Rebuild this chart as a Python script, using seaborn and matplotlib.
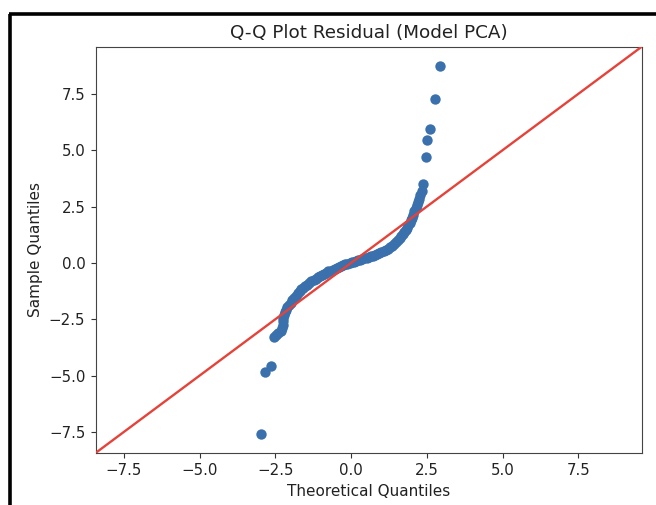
import matplotlib
matplotlib.use("Agg")
import matplotlib.pyplot as plt
from matplotlib.lines import Line2D
import seaborn as sns
import pandas as pd

# Theoretical vs. sample quantiles
theoretical = [
    -2.99, -2.83, -2.65, -2.55, -2.47, -2.40, -2.33, -2.28, -2.26, -2.25,
    -2.24, -2.22, -2.19, -2.15, -2.10, -2.05, -2.00, -1.94, -1.88, -1.82,
    -1.76, -1.70, -1.64, -1.58, -1.52, -1.45, -1.38, -1.31, -1.24, -1.17,
    -1.10, -1.03, -0.96, -0.89, -0.82, -0.75, -0.68, -0.61, -0.54, -0.47,
    -0.40, -0.33, -0.26, -0.19, -0.12, -0.05, 0.02, 0.09, 0.16, 0.23,
    0.30, 0.37, 0.44, 0.51, 0.58, 0.65, 0.72, 0.79, 0.86, 0.93,
    1.00, 1.07, 1.14, 1.21, 1.28, 1.35, 1.42, 1.48, 1.54, 1.60,
    1.66, 1.71, 1.76, 1.81, 1.85, 1.89, 1.93, 1.97, 2.01, 2.05,
    2.09, 2.13, 2.17, 2.21, 2.25, 2.29, 2.33, 2.37, 2.46, 2.52,
    2.62, 2.77, 2.92,
]
sample = [
    -7.59, -4.82, -4.57, -3.27, -3.18, -3.10, -3.02, -2.90, -2.75, -2.60,
    -2.45, -2.32, -2.20, -2.08, -1.97, -1.87, -1.77, -1.66, -1.55, -1.45,
    -1.35, -1.26, -1.18, -1.10, -1.03, -0.96, -0.89, -0.82, -0.76, -0.70,
    -0.64, -0.58, -0.53, -0.48, -0.43, -0.38, -0.34, -0.30, -0.26, -0.22,
    -0.18, -0.14, -0.11, -0.07, -0.04, -0.01, 0.02, 0.05, 0.08, 0.11,
    0.14, 0.17, 0.20, 0.23, 0.26, 0.29, 0.32, 0.35, 0.39, 0.43,
    0.47, 0.52, 0.57, 0.63, 0.69, 0.76, 0.84, 0.92, 1.00, 1.09,
    1.18, 1.27, 1.36, 1.46, 1.56, 1.66, 1.77, 1.89, 2.01, 2.14,
    2.28, 2.42, 2.56, 2.70, 2.85, 3.00, 3.18, 3.50, 4.71, 5.45,
    5.93, 7.28, 8.74,
]

df = pd.DataFrame({"Theoretical Quantiles": theoretical,
                   "Sample Quantiles": sample})

fig = plt.figure(figsize=(6.56, 5.05), dpi=100)
ax = fig.add_axes([0.1463, 0.1036, 0.8319, 0.8039])

lo, hi = -8.42, 9.59
ax.set_xlim(lo, hi)
ax.set_ylim(lo, hi)

sns.scatterplot(data=df, x="Theoretical Quantiles", y="Sample Quantiles",
                ax=ax, color="#3a71ad", edgecolor="#3a71ad", linewidth=0,
                s=56, zorder=2)
ax.axline((0, 0), slope=1, color="#e5433a", linewidth=1.7, zorder=3)

ax.set_title("Q-Q Plot Residual (Model PCA)", fontsize=13.2, color="#222222",
             pad=6.6)
ax.set_xlabel("Theoretical Quantiles", fontsize=11, color="#222222",
              labelpad=4.4)
ax.set_ylabel("Sample Quantiles", fontsize=11, color="#222222",
              labelpad=4.4)
ax.tick_params(colors="#333333", labelcolor="#222222", labelsize=10.8,
               length=3.9, pad=3.8)
for sp in ax.spines.values():
    sp.set_color("#444444")

# screenshot frame (left and top black border)
fig.add_artist(Line2D([0.016, 0.016], [0.0, 0.973], transform=fig.transFigure,
                      color="black", linewidth=2.6, solid_capstyle="butt"))
fig.add_artist(Line2D([0.014, 1.0], [0.973, 0.973], transform=fig.transFigure,
                      color="black", linewidth=2.6, solid_capstyle="butt"))

fig.savefig("out.png", dpi=100)
